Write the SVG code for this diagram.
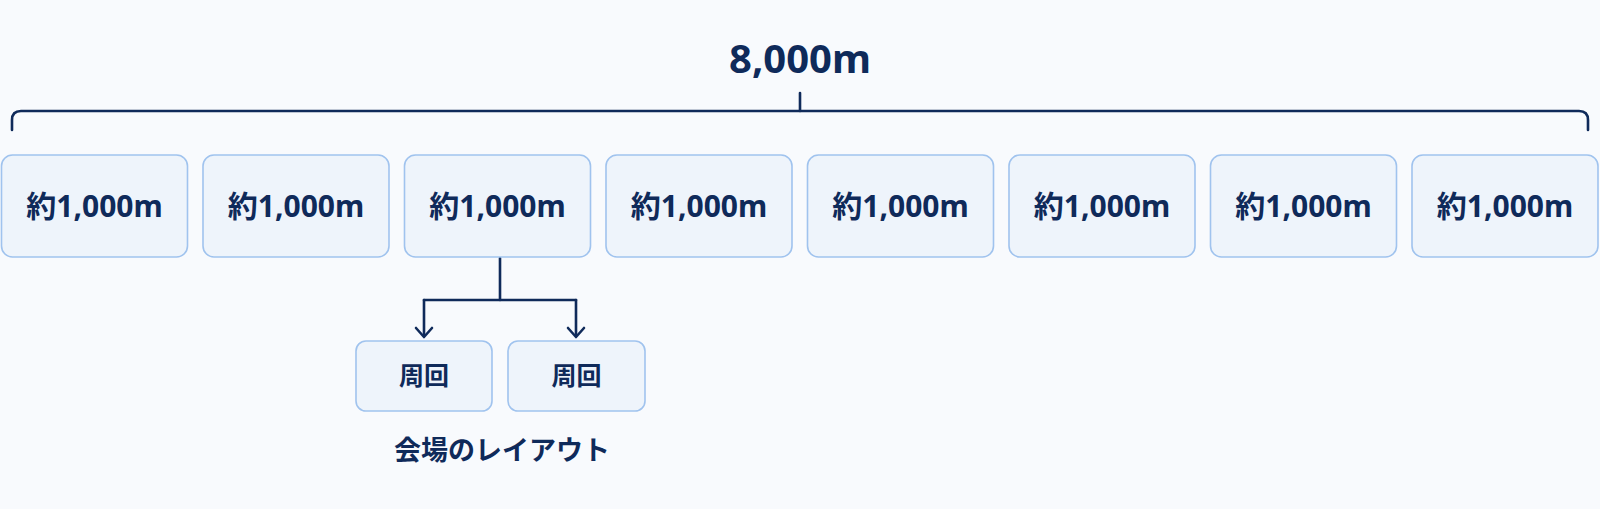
<svg xmlns="http://www.w3.org/2000/svg" width="1600" height="509" viewBox="0 0 1600 509">
<style>
.bg{fill:#f8fafd}
.box{fill:#eef4fb;stroke:#a0c3ee;stroke-width:1.6}
.t{font-family:"Noto Sans","Noto Sans CJK JP",sans-serif;font-weight:700;fill:#0f2a5a;text-anchor:middle}
.seg{font-size:30px}
.sub{font-size:25px}
.ln{fill:none;stroke:#0f2a5a;stroke-width:2.6;stroke-linecap:round;stroke-linejoin:round}
</style>
<rect class="bg" width="1600" height="509"/>
<g id="title"><text class="t" x="800" y="73" font-size="40" fill="#13306a">8,000m</text></g>
<g id="connectors">
<path class="ln" d="M12,130 V120 Q12,111 21,111 H1579 Q1588,111 1588,120 V130"/>
<path class="ln" d="M800,111 V93"/>
<path class="ln" d="M500,258 V300"/>
<path class="ln" d="M424,300 H576"/>
<path class="ln" d="M424,300 V336"/>
<path class="ln" d="M576,300 V336"/>
<path class="ln" d="M416,328 L424,337 L432,328"/>
<path class="ln" d="M568,328 L576,337 L584,328"/>
</g>
<g id="seg1"><rect class="box" x="1.5" y="155" width="186" height="102" rx="11"/><text class="t seg" x="94.5" y="217">約1,000m</text></g>
<g id="seg2"><rect class="box" x="203" y="155" width="186" height="102" rx="11"/><text class="t seg" x="296" y="217">約1,000m</text></g>
<g id="seg3"><rect class="box" x="404.5" y="155" width="186" height="102" rx="11"/><text class="t seg" x="497.5" y="217">約1,000m</text></g>
<g id="seg4"><rect class="box" x="606" y="155" width="186" height="102" rx="11"/><text class="t seg" x="699" y="217">約1,000m</text></g>
<g id="seg5"><rect class="box" x="807.5" y="155" width="186" height="102" rx="11"/><text class="t seg" x="900.5" y="217">約1,000m</text></g>
<g id="seg6"><rect class="box" x="1009" y="155" width="186" height="102" rx="11"/><text class="t seg" x="1102" y="217">約1,000m</text></g>
<g id="seg7"><rect class="box" x="1210.5" y="155" width="186" height="102" rx="11"/><text class="t seg" x="1303.5" y="217">約1,000m</text></g>
<g id="seg8"><rect class="box" x="1412" y="155" width="186" height="102" rx="11"/><text class="t seg" x="1505" y="217">約1,000m</text></g>
<g id="lap1"><rect class="box" x="356" y="341" width="136" height="70" rx="10"/><text class="t sub" x="424" y="385">周回</text></g>
<g id="lap2"><rect class="box" x="508" y="341" width="137" height="70" rx="10"/><text class="t sub" x="576.5" y="385">周回</text></g>
<g id="caption"><text class="t" x="502" y="460" font-size="27">会場のレイアウト</text></g>
</svg>
